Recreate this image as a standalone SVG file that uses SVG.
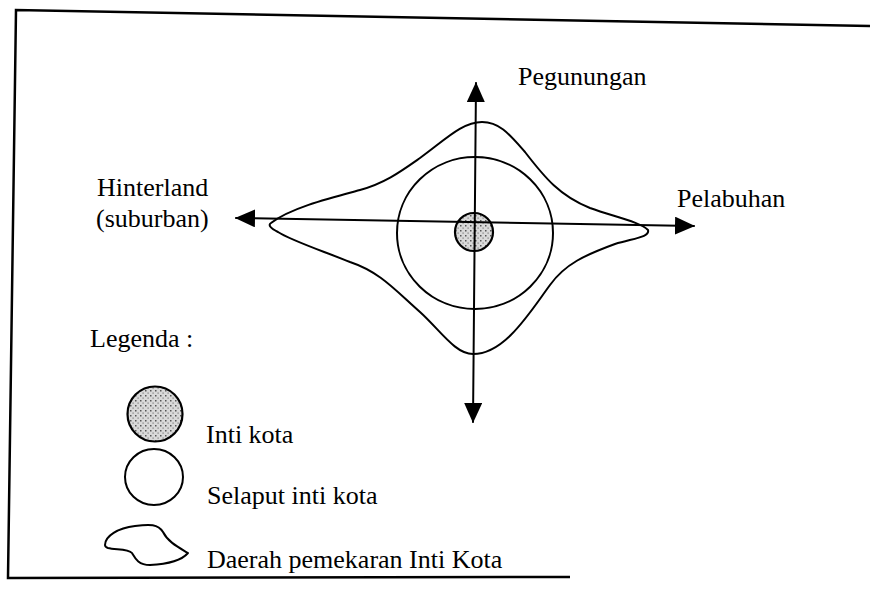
<svg xmlns="http://www.w3.org/2000/svg" width="870" height="593" viewBox="0 0 870 593">
<style>
  .ln { fill: none; stroke: #000; stroke-width: 2; stroke-linecap: round; stroke-linejoin: round; }
  .frame { fill: none; stroke: #000; stroke-width: 2.5; }
  .shade { fill: url(#dots); stroke: #000; stroke-width: 2.2; }
  .txt { font-family: "Liberation Serif", "Times New Roman", serif; font-size: 26px; fill: #000; }
</style>
<defs>
  <pattern id="dots" width="5" height="5" patternUnits="userSpaceOnUse">
    <rect width="5" height="5" fill="#d9d9d9"/>
    <rect x="0" y="0" width="1.5" height="1.5" fill="#555"/>
    <rect x="2.5" y="2.5" width="1.2" height="1.2" fill="#777"/>
  </pattern>
  <marker id="ah" markerUnits="userSpaceOnUse" markerWidth="20" markerHeight="18" refX="19" refY="9" orient="auto-start-reverse">
    <path d="M0,0 L20,9 L0,18 Z" fill="#000"/>
  </marker>
</defs>
<rect width="870" height="593" fill="#fff"/>

<g id="frame">
  <polyline class="frame" points="870,26 16,10 8,578 570,577"/>
</g>

<g id="expansion-zone">
  <path class="ln" d="M271,223 C290,208 330,198 360,190 C385,183 400,172 420,158 C445,140 462,122 482,122 C500,122 510,135 525,152 C545,178 560,196 590,208 C615,217 640,222 648,230 C650,237 635,238 615,244 C585,255 565,264 550,285 C530,312 505,354 473,354 C455,354 440,330 420,312 C395,290 380,272 350,262 C320,250 290,240 278,232 C270,228 268,225 271,223 Z"/>
</g>

<g id="core-membrane">
  <ellipse class="ln" cx="475" cy="233" rx="78" ry="76"/>
</g>

<g id="core">
  <circle class="shade" cx="474" cy="232" r="19"/>
</g>

<g id="connectors">
  <line class="ln" x1="476" y1="83" x2="473" y2="422" marker-start="url(#ah)" marker-end="url(#ah)"/>
  <line class="ln" x1="236" y1="218" x2="694" y2="226" marker-start="url(#ah)" marker-end="url(#ah)"/>
</g>

<g id="label-pegunungan">
  <text class="txt" x="518" y="85">Pegunungan</text>
</g>
<g id="label-pelabuhan">
  <text class="txt" x="677" y="207">Pelabuhan</text>
</g>
<g id="label-hinterland">
  <text class="txt" x="97" y="196">Hinterland</text>
  <text class="txt" x="96" y="227">(suburban)</text>
</g>

<g id="legend">
  <text class="txt" x="90" y="347">Legenda :</text>
  <g id="legend-core">
    <circle class="shade" cx="155" cy="414" r="27.5"/>
    <text class="txt" x="206" y="443">Inti kota</text>
  </g>
  <g id="legend-membrane">
    <ellipse class="ln" cx="154" cy="477" rx="29" ry="28"/>
    <text class="txt" x="207" y="504">Selaput inti kota</text>
  </g>
  <g id="legend-expansion">
    <path class="ln" d="M105,545 C105,536 118,528 135,526 C150,524 158,524 163,532 C168,542 178,547 188,553 C182,560 170,564 150,565 C138,565 135,558 132,553 C128,548 115,550 108,548 C105,547 105,546 105,545 Z"/>
    <text class="txt" x="207" y="568">Daerah pemekaran Inti Kota</text>
  </g>
</g>
</svg>
